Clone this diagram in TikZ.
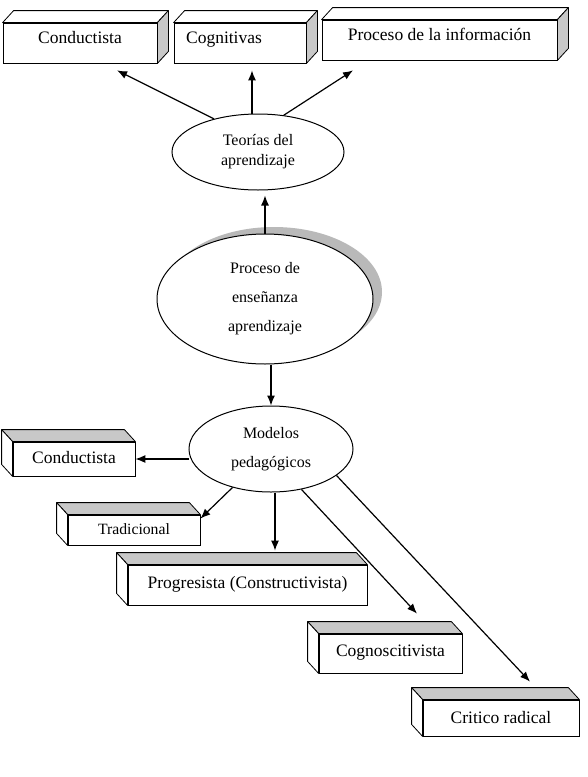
\documentclass[tikz,border=0pt]{standalone}
\usepackage{fontspec}
\setmainfont{Liberation Serif}
\usetikzlibrary{shapes.geometric,arrows.meta,calc,shadows}
\definecolor{boxgray}{RGB}{200,200,200}
\definecolor{shadowgray}{RGB}{185,185,185}
\begin{document}
\begin{tikzpicture}[x=1pt,y=-1pt,
 front/.style={draw, line width=0.8pt, fill=white, inner sep=0pt, text height=13pt, font=\fontsize{17.5}{21}\selectfont},
 oval/.style={draw, ellipse, line width=1pt, fill=white, inner sep=0pt, align=center},
 arr/.style={line width=1.2pt, -{Latex[length=10pt,width=8pt]}},
 face/.style={draw, line width=0.8pt, line join=round},
 grayface/.style={face, fill=boxgray}]
\useasboundingbox (0,0) rectangle (588,777);

% top boxes
\node[front, minimum width=154pt, minimum height=40pt, text depth=12pt] (t1) at (80,43) {Conductista};
\node[front, minimum width=132pt, minimum height=40pt, text depth=12pt] (t2) at (240,43) {Cognitivas\hspace*{32pt}};
\node[front, minimum width=235pt, minimum height=40pt, text depth=12pt] (t3) at (439.5,40) {Proceso de la información};
\foreach \n in {t1,t2,t3}{
  \draw[face, fill=white] (\n.north west) -- ++(11,-12) -- ($(\n.north east)+(11,-12)$) -- (\n.north east) -- cycle;
  \draw[grayface] (\n.north east) -- ++(11,-12) -- ($(\n.south east)+(11,-12)$) -- (\n.south east) -- cycle;
}

% ellipses
\node[oval, minimum width=172pt, minimum height=76pt, font=\fontsize{16}{20}\selectfont] (e1) at (258,152) {Teorías del\\aprendizaje};
\node[oval, minimum width=216pt, minimum height=130pt, font=\fontsize{16}{29}\selectfont,
  drop shadow={shadow xshift=9pt, shadow yshift=7pt, fill=shadowgray, opacity=1}] (e2) at (265,299) {Proceso de\\enseñanza\\aprendizaje};
\node[oval, minimum width=164pt, minimum height=86pt, font=\fontsize{16}{29}\selectfont] (e3) at (271,449) {Modelos\\pedagógicos};

% bottom boxes
\node[front, minimum width=122pt, minimum height=34pt, text depth=4pt] (b1) at (74,459) {Conductista};
\node[front, minimum width=132pt, minimum height=30pt, text depth=4pt, font=\fontsize{15.7}{19}\selectfont] (b2) at (134,530) {Tradicional};
\node[front, minimum width=239pt, minimum height=40pt, text depth=6pt] (b3) at (247.5,585) {Progresista (Constructivista)};
\node[front, minimum width=143pt, minimum height=39pt, text depth=7pt] (b4) at (390.5,653.5) {Cognoscitivista};
\node[front, minimum width=156pt, minimum height=36pt, text depth=2pt] (b5) at (501,718) {Critico radical};
\foreach \n in {b1,b2,b3,b4,b5}{
  \draw[grayface] (\n.north west) -- ++(-11,-12) -- ($(\n.north east)+(-11,-12)$) -- (\n.north east) -- cycle;
  \draw[face, fill=white] (\n.north west) -- ++(-11,-12) -- ($(\n.south west)+(-11,-12)$) -- (\n.south west) -- cycle;
}

% connectors
\draw[arr] (e1.143) -- ($(t1.south)+(37,7)$);
\draw[arr] ($(e1.north)+(-6,0)$) -- ($(t2.south)+(12,7)$);
\draw[arr] (e1.55) -- ($(t3.south)+(-86.5,10)$);
\draw[arr] (e2.north) -- ($(e1.south)+(7,5)$);
\draw[arr] (e2.south -| e3.north) -- (e3.north);
\draw[arr] (b1.east -| e3.west) -- (b1.east);
\draw[arr] (e3.225) -- ($(b2.north east)+(0,4)$);
\draw[arr] ($(e3.south)+(4,0)$) -- ($(b3.north)+(27.5,-14)$);
\draw[arr] (e3.-53) -- ($(b4.north)+(26.5,-20)$);
\draw[arr] (e3.-22) -- ($(b5.north)+(29,-18)$);
\end{tikzpicture}
\end{document}
